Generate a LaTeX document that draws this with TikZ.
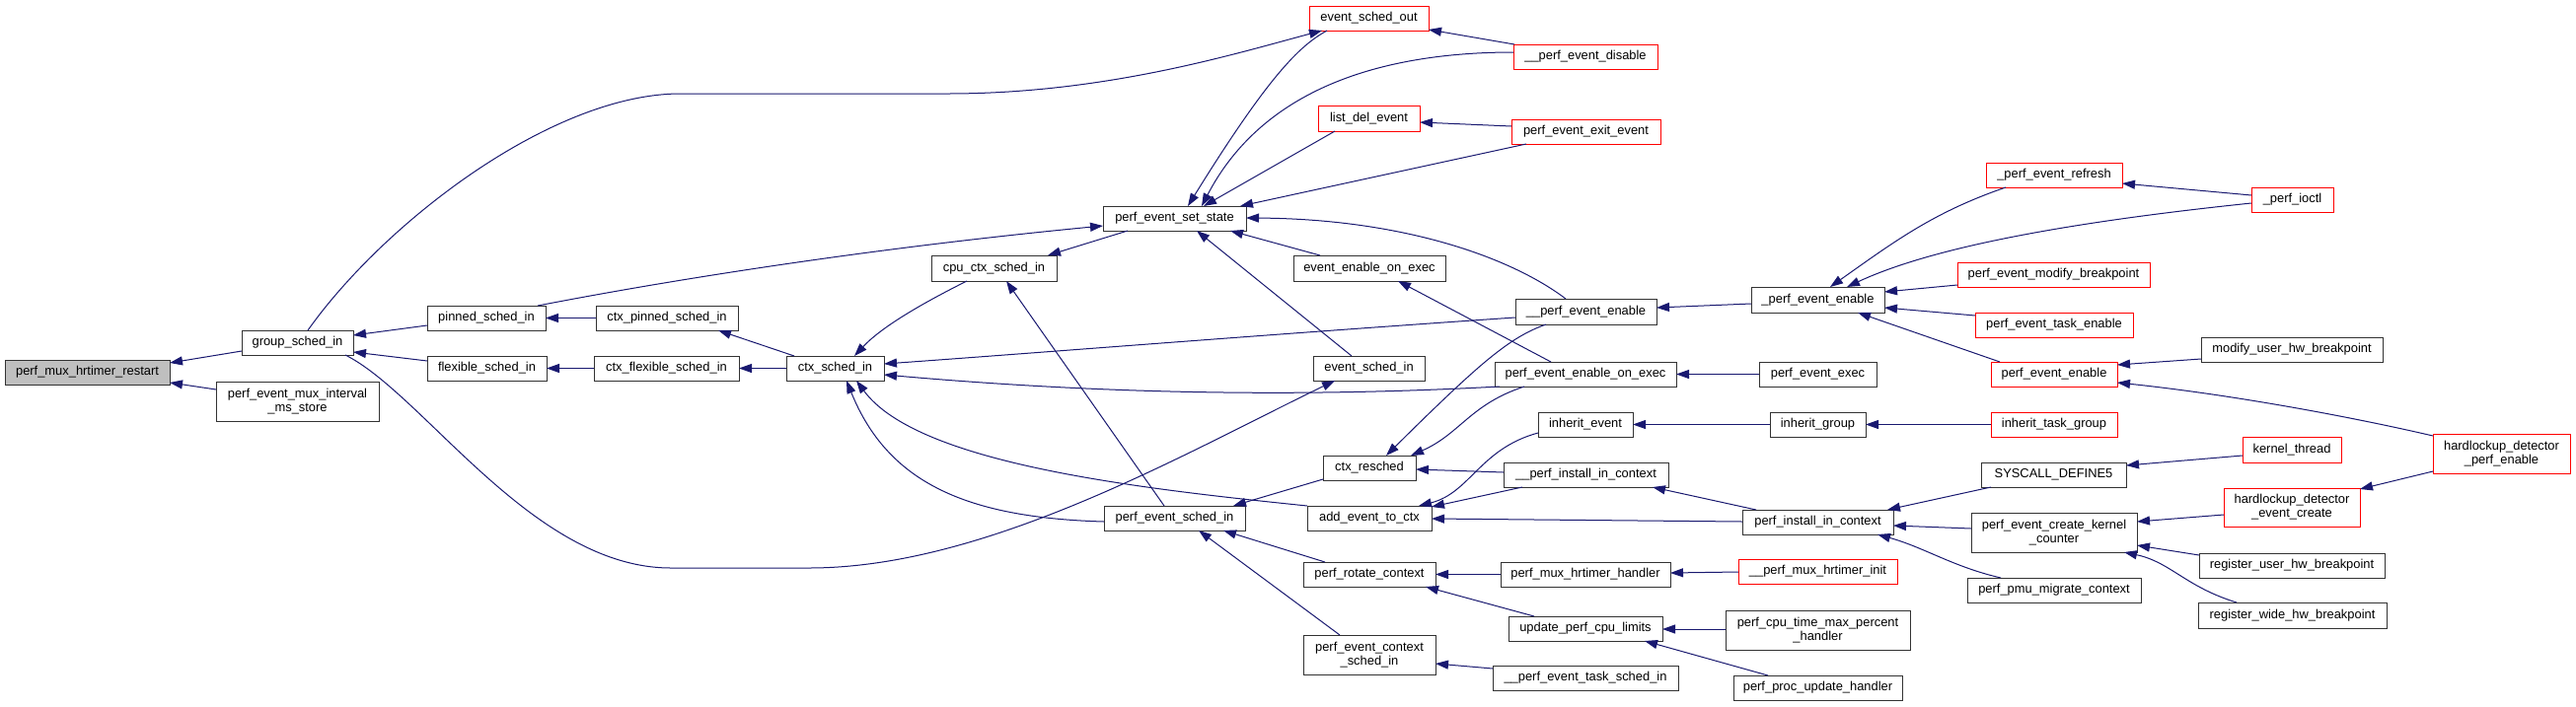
\documentclass[tikz,border=0pt]{standalone}
\usepackage{fontspec}
\setmainfont{Liberation Sans}
\usetikzlibrary{arrows.meta}
\definecolor{mblue}{RGB}{25,25,112}
\definecolor{nodegray}{RGB}{191,191,191}
\newcommand\dfont{\fontsize{12.9}{14}\selectfont}
\tikzset{
  box/.style={draw=black!80, line width=1pt, fill=white, rectangle, inner sep=0pt, outer sep=0pt, anchor=north west, font=\dfont, align=center},
  rbox/.style={box, draw=red},
  gbox/.style={box, fill=nodegray},
  e/.style={draw=mblue, line width=1pt, -{Triangle[length=13pt,width=9pt]}},
}
\begin{document}
\begin{tikzpicture}[x=1pt,y=-1pt]
\useasboundingbox[fill=white] (0,0) rectangle (2611,716);
% nodes
\node[gbox, minimum width=167pt, minimum height=25pt] (restart) at (5,365) {perf\_mux\_hrtimer\_restart};
\node[box, minimum width=113pt, minimum height=25pt] (gsi) at (245,335) {group\_sched\_in};
\node[box, minimum width=165pt, minimum height=40pt] (pemims) at (219,387) {perf\_event\_mux\_interval\\\_ms\_store};
\node[box, minimum width=120pt, minimum height=25pt] (pinned) at (433,310) {pinned\_sched\_in};
\node[box, minimum width=144pt, minimum height=25pt] (ctxpinned) at (604,310) {ctx\_pinned\_sched\_in};
\node[box, minimum width=121pt, minimum height=25pt] (flex) at (433,361) {flexible\_sched\_in};
\node[box, minimum width=147pt, minimum height=25pt] (ctxflex) at (602,361) {ctx\_flexible\_sched\_in};
\node[box, minimum width=99pt, minimum height=25pt] (csi) at (797,361) {ctx\_sched\_in};
\node[box, minimum width=145pt, minimum height=25pt] (pess) at (1118,209) {perf\_event\_set\_state};
\node[box, minimum width=127pt, minimum height=26pt] (cpuctx) at (944,259) {cpu\_ctx\_sched\_in};
\node[box, minimum width=143pt, minimum height=25pt] (pesi) at (1119,513) {perf\_event\_sched\_in};
\node[rbox, minimum width=121pt, minimum height=25pt] (esout) at (1327,6) {event\_sched\_out};
\node[rbox, minimum width=146pt, minimum height=25pt] (ped) at (1534,45) {\_\_perf\_event\_disable};
\node[rbox, minimum width=103pt, minimum height=26pt] (lde) at (1336,107) {list\_del\_event};
\node[rbox, minimum width=151pt, minimum height=25pt] (pexit) at (1532,121) {perf\_event\_exit\_event};
\node[box, minimum width=154pt, minimum height=26pt] (eeoe) at (1311,259) {event\_enable\_on\_exec};
\node[box, minimum width=143pt, minimum height=26pt] (pee2) at (1536,303) {\_\_perf\_event\_enable};
\node[box, minimum width=113pt, minimum height=25pt] (esi) at (1331,361) {event\_sched\_in};
\node[box, minimum width=184pt, minimum height=25pt] (peeoe) at (1515,367) {perf\_event\_enable\_on\_exec};
\node[box, minimum width=96pt, minimum height=25pt] (ie) at (1559,418) {inherit\_event};
\node[box, minimum width=94pt, minimum height=25pt] (cres) at (1341,462) {ctx\_resched};
\node[box, minimum width=167pt, minimum height=25pt] (piic2) at (1524,469) {\_\_perf\_install\_in\_context};
\node[box, minimum width=126pt, minimum height=25pt] (aetc) at (1325,513) {add\_event\_to\_ctx};
\node[box, minimum width=134pt, minimum height=25pt] (prc) at (1321,570) {perf\_rotate\_context};
\node[box, minimum width=172pt, minimum height=25pt] (pmhh) at (1521,570) {perf\_mux\_hrtimer\_handler};
\node[box, minimum width=156pt, minimum height=25pt] (upcl) at (1529,625) {update\_perf\_cpu\_limits};
\node[box, minimum width=134pt, minimum height=40pt] (pecsi) at (1321,644) {perf\_event\_context\\\_sched\_in};
\node[box, minimum width=188pt, minimum height=25pt] (petsi) at (1513,675) {\_\_perf\_event\_task\_sched\_in};
\node[box, minimum width=135pt, minimum height=26pt] (pee1) at (1775,291) {\_perf\_event\_enable};
\node[rbox, minimum width=138pt, minimum height=25pt] (per) at (2013,165) {\_perf\_event\_refresh};
\node[rbox, minimum width=195pt, minimum height=25pt] (pemb) at (1984,266) {perf\_event\_modify\_breakpoint};
\node[rbox, minimum width=160pt, minimum height=25pt] (pete) at (2002,317) {perf\_event\_task\_enable};
\node[rbox, minimum width=83pt, minimum height=25pt] (pioctl) at (2282,190) {\_perf\_ioctl};
\node[box, minimum width=184pt, minimum height=25pt] (muhb) at (2231,342) {modify\_user\_hw\_breakpoint};
\node[rbox, minimum width=128pt, minimum height=25pt] (pee) at (2018,367) {perf\_event\_enable};
\node[box, minimum width=119pt, minimum height=25pt] (pexec) at (1783,367) {perf\_event\_exec};
\node[box, minimum width=97pt, minimum height=25pt] (ig) at (1794,418) {inherit\_group};
\node[rbox, minimum width=128pt, minimum height=25pt] (itg) at (2018,418) {inherit\_task\_group};
\node[box, minimum width=147pt, minimum height=25pt] (sd5) at (2008,469) {SYSCALL\_DEFINE5};
\node[box, minimum width=153pt, minimum height=25pt] (pic) at (1766,517) {perf\_install\_in\_context};
\node[box, minimum width=168pt, minimum height=40pt] (peckc) at (1998,520) {perf\_event\_create\_kernel\\\_counter};
\node[box, minimum width=176pt, minimum height=25pt] (ppmc) at (1994,586) {perf\_pmu\_migrate\_context};
\node[rbox, minimum width=161pt, minimum height=25pt] (pmhi) at (1762,567) {\_\_perf\_mux\_hrtimer\_init};
\node[box, minimum width=187pt, minimum height=40pt] (pctmph) at (1749,619) {perf\_cpu\_time\_max\_percent\\\_handler};
\node[box, minimum width=171pt, minimum height=25pt] (ppuh) at (1757,685) {perf\_proc\_update\_handler};
\node[rbox, minimum width=100pt, minimum height=26pt] (kt) at (2273,443) {kernel\_thread};
\node[rbox, minimum width=139pt, minimum height=40pt] (hdpe) at (2466,440) {hardlockup\_detector\\\_perf\_enable};
\node[rbox, minimum width=138pt, minimum height=39pt] (hdec) at (2254,495) {hardlockup\_detector\\\_event\_create};
\node[box, minimum width=188pt, minimum height=25pt] (ruhb) at (2229,561) {register\_user\_hw\_breakpoint};
\node[box, minimum width=191pt, minimum height=26pt] (rwhb) at (2228,611) {register\_wide\_hw\_breakpoint};
% edges
\draw[e] ([shift={(0,21)}]gsi.north west) -- ([shift={(167,3)}]restart.north west);
\draw[e] ([shift={(0,8)}]pemims.north west) -- ([shift={(167,23)}]restart.north west);
\draw[e] ([shift={(0,20)}]pinned.north west) -- ([shift={(113,5)}]gsi.north west);
\draw[e] ([shift={(0,5)}]flex.north west) -- ([shift={(113,22)}]gsi.north west);
\draw[e] (ctxpinned.west) -- (pinned.east);
\draw[e] (ctxflex.west) -- (flex.east);
\draw[e] ([shift={(8,0)}]csi.north west) -- ([shift={(124,25)}]ctxpinned.north west);
\draw[e] (csi.west) -- (ctxflex.east);
\draw[e] ([shift={(67,0)}]gsi.north west) .. controls (390,225) and (560,95) .. (690,95) -- (960,95) .. controls (1120,95) and (1250,55) .. ([shift={(13,25)}]esout.north west);
\draw[e] ([shift={(105,25)}]gsi.north west) .. controls (430,400) and (540,576) .. (680,576) -- (820,576) .. controls (1000,576) and (1200,460) .. ([shift={(22,25)}]esi.north west);
\draw[e] ([shift={(112,0)}]pinned.north west) .. controls (700,280) and (900,250) .. ([shift={(0,20)}]pess.north west);
\draw[e] ([shift={(36,26)}]cpuctx.north west) .. controls (940,305) and (895,330) .. ([shift={(69,0)}]csi.north west);
\draw[e] ([shift={(0,19)}]pee2.north west) .. controls (1300,338) and (1050,358) .. ([shift={(99,8)}]csi.north west);
\draw[e] ([shift={(5,25)}]peeoe.north west) .. controls (1300,404) and (1100,398) .. ([shift={(99,19)}]csi.north west);
\draw[e] (aetc.north west) .. controls (1150,495) and (930,470) .. ([shift={(71,25)}]csi.north west);
\draw[e] ([shift={(0,16)}]pesi.north west) .. controls (980,525) and (900,490) .. ([shift={(61,25)}]csi.north west);
\draw[e] ([shift={(25,25)}]pess.north west) -- ([shift={(118,0)}]cpuctx.north west);
\draw[e] ([shift={(61,0)}]pesi.north west) -- ([shift={(76,26)}]cpuctx.north west);
\draw[e] ([shift={(18,25)}]esout.north west) .. controls (1320,45) and (1290,70) .. ([shift={(86,0)}]pess.north west);
\draw[e] ([shift={(0,8)}]ped.north west) .. controls (1400,53) and (1280,90) .. ([shift={(100,0)}]pess.north west);
\draw[e] ([shift={(17,26)}]lde.north west) -- ([shift={(102,0)}]pess.north west);
\draw[e] ([shift={(15,25)}]pexit.north west) -- ([shift={(139,0)}]pess.north west);
\draw[e] ([shift={(51,0)}]pee2.north west) .. controls (1530,260) and (1420,222) .. ([shift={(145,12)}]pess.north west);
\draw[e] ([shift={(27,0)}]eeoe.north west) -- ([shift={(129,25)}]pess.north west);
\draw[e] ([shift={(39,0)}]esi.north west) -- ([shift={(95,25)}]pess.north west);
\draw[e] ([shift={(1,0)}]ped.north west) -- ([shift={(121,24)}]esout.north west);
\draw[e] ([shift={(0,7)}]pexit.north west) -- ([shift={(103,17)}]lde.north west);
\draw[e] ([shift={(0,24)}]cres.north west) -- ([shift={(131,0)}]pesi.north west);
\draw[e] ([shift={(22,0)}]prc.north west) -- ([shift={(121,25)}]pesi.north west);
\draw[e] ([shift={(37,0)}]pecsi.north west) -- ([shift={(96,25)}]pesi.north west);
\draw[e] ([shift={(31,26)}]pee2.north west) .. controls (1530,342) and (1500,368) .. ([shift={(64,0)}]cres.north west);
\draw[e] ([shift={(30,25)}]peeoe.north west) .. controls (1490,410) and (1480,440) .. ([shift={(89,0)}]cres.north west);
\draw[e] ([shift={(0,10)}]piic2.north west) -- ([shift={(94,14)}]cres.north west);
\draw[e] ([shift={(57,0)}]peeoe.north west) -- ([shift={(106,26)}]eeoe.north west);
\draw[e] ([shift={(0,21)}]ie.north west) .. controls (1500,455) and (1490,500) .. ([shift={(113,0)}]aetc.north west);
\draw[e] ([shift={(19,25)}]piic2.north west) -- ([shift={(126,1)}]aetc.north west);
\draw[e] ([shift={(0,12)}]pic.north west) -- ([shift={(126,13)}]aetc.north west);
\draw[e] (pmhh.west) -- (prc.east);
\draw[e] ([shift={(26,0)}]upcl.north west) -- ([shift={(124,25)}]prc.north west);
\draw[e] ([shift={(0,3)}]petsi.north west) -- ([shift={(134,29)}]pecsi.north west);
\draw[e] ([shift={(0,13)}]pmhi.north west) -- ([shift={(172,11)}]pmhh.north west);
\draw[e] ([shift={(0,19)}]pctmph.north west) -- ([shift={(156,13)}]upcl.north west);
\draw[e] ([shift={(35,0)}]ppuh.north west) -- ([shift={(138,25)}]upcl.north west);
\draw[e] ([shift={(14,0)}]pic.north west) -- ([shift={(151,25)}]piic2.north west);
\draw[e] ([shift={(0,17)}]pee1.north west) -- ([shift={(143,9)}]pee2.north west);
\draw[e] (pexec.west) -- (peeoe.east);
\draw[e] (ig.west) -- (ie.east);
\draw[e] (itg.west) -- (ig.east);
\draw[e] ([shift={(20,25)}]per.north west) .. controls (1960,215) and (1920,245) .. ([shift={(80,0)}]pee1.north west);
\draw[e] ([shift={(0,16)}]pioctl.north west) .. controls (2100,225) and (1960,250) .. ([shift={(97,0)}]pee1.north west);
\draw[e] ([shift={(0,23)}]pemb.north west) -- ([shift={(135,5)}]pee1.north west);
\draw[e] ([shift={(0,3)}]pete.north west) -- ([shift={(135,21)}]pee1.north west);
\draw[e] ([shift={(9,0)}]pee.north west) -- ([shift={(108,26)}]pee1.north west);
\draw[e] ([shift={(0,8)}]pioctl.north west) -- ([shift={(138,21)}]per.north west);
\draw[e] ([shift={(0,22)}]muhb.north west) -- ([shift={(128,3)}]pee.north west);
\draw[e] ([shift={(0,2)}]hdpe.north west) .. controls (2380,422) and (2260,400) .. ([shift={(128,21)}]pee.north west);
\draw[e] ([shift={(0,19)}]kt.north west) -- ([shift={(147,3)}]sd5.north west);
\draw[e] ([shift={(10,25)}]sd5.north west) -- ([shift={(147,0)}]pic.north west);
\draw[e] ([shift={(0,16)}]peckc.north west) -- ([shift={(153,16)}]pic.north west);
\draw[e] ([shift={(34,0)}]ppmc.north west) .. controls (1980,575) and (1950,555) .. ([shift={(137,25)}]pic.north west);
\draw[e] ([shift={(0,27)}]hdec.north west) -- ([shift={(168,9)}]peckc.north west);
\draw[e] ([shift={(0,2)}]ruhb.north west) -- ([shift={(168,33)}]peckc.north west);
\draw[e] ([shift={(39,0)}]rwhb.north west) .. controls (2215,595) and (2200,570) .. ([shift={(155,40)}]peckc.north west);
\draw[e] ([shift={(0,38)}]hdpe.north west) -- ([shift={(138,1)}]hdec.north west);
\end{tikzpicture}
\end{document}
